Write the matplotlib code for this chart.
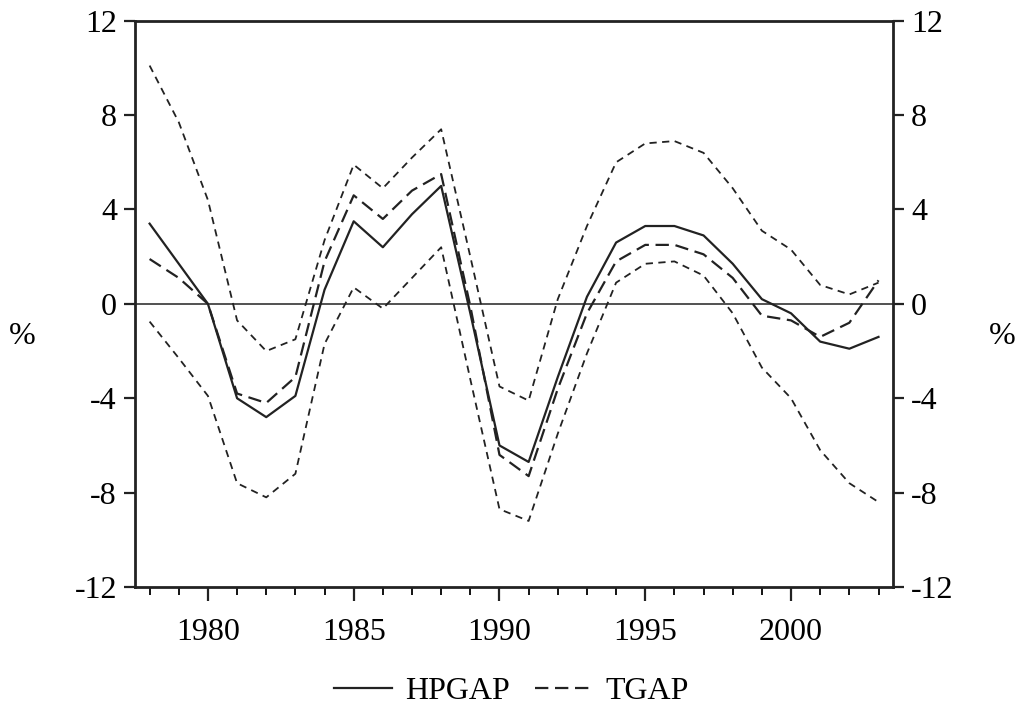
import numpy as np
import matplotlib
matplotlib.use("Agg")
import matplotlib.pyplot as plt
from matplotlib.ticker import MultipleLocator

plt.rcParams['font.family'] = ['Liberation Serif', 'DejaVu Serif']

# Datos
years = list(range(1978, 2004))
hpgap = [3.4, 1.7, 0.0, -4.0, -4.8, -3.9, 0.6, 3.5, 2.4, 3.8, 5.0, -0.4, -6.0,
         -6.7, -3.1, 0.3, 2.6, 3.3, 3.3, 2.9, 1.7, 0.2, -0.4, -1.6, -1.9, -1.4]
tgap = [1.9, 1.1, 0.0, -3.8, -4.2, -3.1, 1.8, 4.6, 3.6, 4.8, 5.5, -0.1, -6.4,
        -7.3, -3.6, -0.4, 1.8, 2.5, 2.5, 2.1, 1.1, -0.5, -0.7, -1.4, -0.8, 1.0]
tgap_up = [10.1, 7.7, 4.4, -0.7, -2.0, -1.5, 2.7, 5.9, 4.9, 6.2, 7.4, 2.0, -3.5,
           -4.1, 0.2, 3.3, 6.0, 6.8, 6.9, 6.4, 4.9, 3.1, 2.3, 0.8, 0.4, 0.9]
tgap_lo = [-0.75, -2.3, -3.9, -7.6, -8.2, -7.2, -1.7, 0.7, -0.2, 1.1, 2.4, -3.2, -8.7,
           -9.2, -5.5, -2.1, 0.9, 1.7, 1.8, 1.2, -0.4, -2.7, -4.0, -6.2, -7.6, -8.4]
yticks = [-12, -8, -4, 0, 4, 8, 12]

fig = plt.figure(figsize=(10.23, 7.15), dpi=100)
ax = fig.add_axes([0.132, 0.179, 0.741, 0.792])

ax.axhline(0, color='#333333', lw=1.2)
ax.plot(years, hpgap, color='#222222', lw=1.6, label='HPGAP')
ax.plot(years, tgap, color='#222222', lw=1.6, ls=(0, (6, 3)), label='TGAP')
ax.plot(years, tgap_up, color='#222222', lw=1.3, ls=(0, (4, 3)))
ax.plot(years, tgap_lo, color='#222222', lw=1.3, ls=(0, (4, 3)))

ax.set_xlim(1977.5, 2003.5)
ax.set_ylim(-12, 12)
ax.set_yticks(yticks)
ax.set_yticklabels([str(t) for t in yticks])
ax.xaxis.set_major_locator(MultipleLocator(5))
ax.xaxis.set_minor_locator(MultipleLocator(1))

for s in ax.spines.values():
    s.set_linewidth(2)
    s.set_color('#222222')

ax.tick_params(axis='both', which='major', direction='out', labelsize=23,
               width=1.6, color='#222222')
ax.tick_params(axis='x', which='major', length=10, pad=12)
ax.tick_params(axis='x', which='minor', length=6, width=1.3, direction='out')
ax.tick_params(axis='y', which='major', length=8, right=True, labelright=True, pad=5)

fig.text(0.022, 0.53, '%', fontsize=23, ha='center', va='center')
fig.text(0.98, 0.53, '%', fontsize=23, ha='center', va='center')

fig.legend(loc='lower center', bbox_to_anchor=(0.5, -0.028), ncol=2, frameon=False,
           fontsize=23, handlelength=1.8, columnspacing=0.8, handletextpad=0.4)

fig.savefig('out.png', dpi=100)
